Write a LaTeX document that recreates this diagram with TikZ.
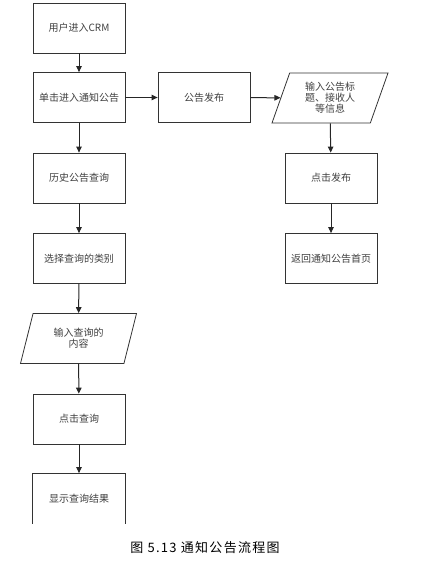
\documentclass[tikz,border=0pt]{standalone}
\usepackage{fontspec}
\setmainfont{Noto Sans CJK SC}
\usetikzlibrary{shapes.geometric,arrows.meta}
\begin{document}
\begin{tikzpicture}[x=1pt,y=-1pt,
box/.style={draw=black!80,line width=0.8pt,minimum width=92pt,minimum height=50pt,font=\fontsize{10}{11}\selectfont,text=black!75,align=center},
io/.style={box,shape=trapezium,trapezium left angle=65,trapezium right angle=115,minimum width=116pt,trapezium stretches body},
link/.style={draw=black!85,line width=1pt,-{Triangle[length=6pt,width=5.5pt]}}]
\useasboundingbox(0,0)rectangle(425,565);
\node[box](crm)at(79,28){用户进入CRM};
\node[box](notice)at(79,97.5){单击进入通知公告};
\node[box](history)at(79,178){历史公告查询};
\node[box](category)at(79,258.5){选择查询的类别};
\node[io](content)at(78.5,338.5){输入查询的\\内容};
\node[box](query)at(79,419){点击查询};
\node[box,draw=none](result)at(79,498.5){显示查询结果};
\draw[black!80,line width=0.8pt](result.south west)|-(result.north east)--(result.south east);
\node[box](publish)at(204,97.5){公告发布};
\node[io](info)at(330,98){输入公告标\\题、接收人\\等信息};
\node[box](click)at(331,178){点击发布};
\node[box](back)at(331,258.5){返回通知公告首页};
\node[font=\fontsize{13}{15}\selectfont\addfontfeatures{LetterSpace=10}](cap)at(205,548){图 5.13 通知公告流程图};
\draw[link](crm)--(notice);
\draw[link](notice)--(history);
\draw[link](history)--(category);
\draw[link](category)--(content);
\draw[link](content)--(query);
\draw[link](query)--(result);
\draw[link](notice)--(publish);
\draw[link](publish)--(info);
\draw[link](info)--(click);
\draw[link](click)--(back);
\end{tikzpicture}
\end{document}
